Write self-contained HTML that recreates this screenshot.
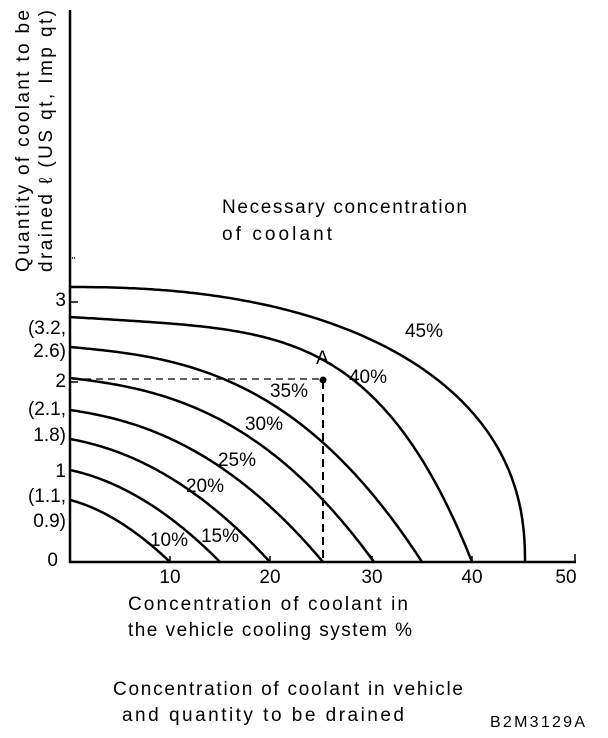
<!DOCTYPE html><html><head><style>body{margin:0;background:#fff}svg{display:block}text{font-family:"Liberation Sans",Arial,sans-serif;font-size:19px;fill:#000}</style></head><body>
<svg id="s" width="608" height="738" viewBox="0 0 608 738" xmlns="http://www.w3.org/2000/svg">
<line x1="70" y1="10" x2="70" y2="563" stroke="#000" stroke-width="2.5"/>
<line x1="69" y1="562" x2="576" y2="562" stroke="#000" stroke-width="2.5"/>
<g stroke="#000" stroke-width="1.5">
<line x1="170" y1="556" x2="170" y2="562"/><line x1="270" y1="556" x2="270" y2="562"/><line x1="372" y1="556" x2="372" y2="562"/><line x1="472" y1="556" x2="472" y2="562"/><line x1="575" y1="554" x2="575" y2="562"/>
<line x1="70" y1="302" x2="78" y2="302"/><line x1="70" y1="382" x2="78" y2="382"/><line x1="70" y1="258" x2="76" y2="258" stroke-dasharray="1 1"/>
</g>
<g id="c" fill="none" stroke="#000" stroke-width="2.5"></g>
<line x1="72" y1="379" x2="323" y2="379" stroke="#000" stroke-width="1.2" stroke-dasharray="7 5"/>
<line x1="323" y1="381" x2="323" y2="562" stroke="#000" stroke-width="2" stroke-dasharray="8 5"/>
<circle cx="323" cy="380" r="3.5" fill="#000"/>
<text x="316" y="364">A</text>
<text x="405" y="337" textLength="38">45%</text><text x="349" y="383" textLength="38">40%</text><text x="270" y="397" textLength="38">35%</text><text x="245" y="430" textLength="38">30%</text><text x="218" y="466" textLength="38">25%</text><text x="186" y="492" textLength="38">20%</text><text x="201" y="542" textLength="38">15%</text><text x="150" y="546" textLength="38">10%</text>
<g text-anchor="end"><text x="66" y="306">3</text><text x="66" y="334">(3.2,</text><text x="66" y="357">2.6)</text><text x="66" y="387">2</text><text x="66" y="415">(2.1,</text><text x="66" y="441">1.8)</text><text x="66" y="477">1</text><text x="66" y="502">(1.1,</text><text x="66" y="527">0.9)</text><text x="58" y="566">0</text></g>
<g text-anchor="middle"><text x="170" y="583">10</text><text x="270" y="583">20</text><text x="372" y="583">30</text><text x="472" y="583">40</text><text x="566" y="583">50</text></g>
<text x="222" y="213" textLength="245">Necessary concentration</text><text x="222" y="240" textLength="110">of coolant</text>
<text transform="translate(29,272) rotate(-90)" textLength="262">Quantity of coolant to be</text>
<text transform="translate(52,272) rotate(-90)" textLength="262">drained ℓ (US qt, Imp qt)</text>
<text x="128" y="610" textLength="280">Concentration of coolant in</text><text x="128" y="636" textLength="284">the vehicle cooling system %</text>
<text x="113" y="695" textLength="350">Concentration of coolant in vehicle</text><text x="122" y="721" textLength="282">and quantity to be drained</text>
<text x="490" y="727" textLength="95" style="font-size:16px">B2M3129A</text>
</svg>
<script>
var C=[[287,525,0,0],[317,472,0.1,4.5],[347,422,0.15,2.8],[378,374,0.2,2.6],[410,323,0.25,2.3],[439,270,0.3,2.1],[470,220,0.35,2],[500,170,0.4,1.9]];
var g=document.getElementById('c'),h='';
C.forEach(function(c){var H=562-c[0],L=c[1]-70,a=c[2],p=c[3],d='';for(var i=0;i<=200;i++){var t=Math.sin(i/200*Math.PI/2),x,f;
if(p===0){x=70+L*t-18*Math.pow(1-t,0)*0;f=Math.pow(Math.max(0,1-Math.pow(t,2.3)),1/2.3);x=70+(L-0)*t; if(t>0.92){x=70+L*t;}}else{x=70+L*t;f=1-a*t-(1-a)*Math.pow(t,p);}
var y=562-H*f;d+=(i?'L':'M')+x.toFixed(1)+' '+y.toFixed(1);}h+='<path d="'+d+'"/>';});
g.innerHTML=h;
</script>
</body></html>
